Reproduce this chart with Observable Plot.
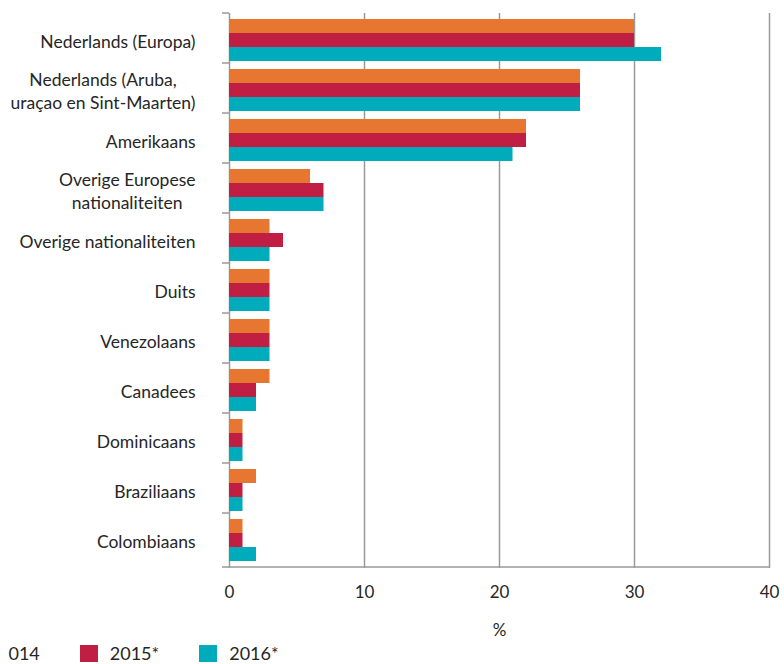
<!DOCTYPE html>
<html><head><meta charset="utf-8">
<script src="https://cdn.jsdelivr.net/npm/d3@7"></script>
<script src="https://cdn.jsdelivr.net/npm/@observablehq/plot@0.6"></script>
<style>
body{margin:0;background:#fff;font-family:Lato, sans-serif;}
#wrap{position:relative;width:784px;height:664px;overflow:hidden;}
#legclip{position:absolute;left:8px;top:636px;width:400px;height:28px;overflow:hidden;}
#legend{position:absolute;left:-40px;top:6px;display:flex;align-items:center;font-size:18px;color:#262626;white-space:nowrap;}
.item{display:flex;align-items:center;margin-right:40px}
.sw{width:18px;height:17px;margin-right:12px}
</style></head><body><div id="wrap"></div>
<script>
const categories = [
  "Nederlands (Europa)",
  "Nederlands (Aruba,\nuraçao en Sint-Maarten)",
  "Amerikaans",
  "Overige Europese\nnationaliteiten",
  "Overige nationaliteiten",
  "Duits",
  "Venezolaans",
  "Canadees",
  "Dominicaans",
  "Braziliaans",
  "Colombiaans"
];
const years = ["2014", "2015*", "2016*"];
const colors = ["#E77730", "#C01F43", "#00ABBC"];
const v2014 = [30, 26, 22, 6, 3, 3, 3, 3, 1, 2, 1];
const v2015 = [30, 26, 22, 7, 4, 3, 3, 2, 1, 1, 1];
const v2016 = [32, 26, 21, 7, 3, 3, 3, 2, 1, 1, 2];
const xTicks = [0, 10, 20, 30, 40];
const xLabel = "%";

const series = [v2014, v2015, v2016];
const data = categories.flatMap((c, i) => years.map((y, j) => ({cat: c, year: y, value: series[j][i]})));

const textColor = "#262626";
const gridColor = "#9a9a9a";

const chart = Plot.plot({
  width: 784,
  height: 640,
  marginLeft: 229,
  marginRight: 15,
  marginTop: 9,
  marginBottom: 73,
  style: {fontFamily: "Lato, sans-serif", fontSize: "17px", color: textColor, background: "#fff"},
  x: {domain: [0, 40], ticks: xTicks, label: null},
  fy: {domain: categories, padding: 0, axis: null},
  y: {domain: years, paddingInner: 0, paddingOuter: 0.25, align: 0.8, axis: null},
  color: {domain: years, range: colors},
  marks: [
    Plot.gridX(xTicks, {stroke: gridColor, strokeOpacity: 1, strokeWidth: 1.5}),
    Plot.barX(data, {fy: "cat", y: "year", x: "value", fill: "year"}),
    Plot.axisFy({anchor: "left", tickSize: 0, tickPadding: 34, label: null, fontSize: 17.5, lineHeight: 1.3, dy: 2, fill: textColor}),
    Plot.axisX({ticks: xTicks, tickSize: 5, tickPadding: 17, stroke: gridColor, strokeWidth: 1.5, fontSize: 17, fill: textColor,
      label: xLabel, labelAnchor: "center", labelArrow: "none", labelOffset: 72})
  ]
});

document.getElementById("wrap").appendChild(chart);

// decorations drawn with the chart's own scales
const svg = d3.select(chart.tagName.toLowerCase() === "svg" ? chart : chart.querySelector("svg"));
const fy = chart.scale("fy");
const xs = chart.scale("x");
const x0 = xs.apply(0), x1 = xs.apply(40);
const yBottom = fy.range[1];
const bounds = categories.map(c => fy.apply(c)).concat([yBottom]);
const g = svg.append("g").attr("stroke", gridColor).attr("stroke-width", 1.5);
g.append("line").attr("x1", x0).attr("x2", x1).attr("y1", yBottom).attr("y2", yBottom);
bounds.forEach(b => g.append("line").attr("x1", x0 - 7).attr("x2", x0).attr("y1", b).attr("y2", b));

// center wrapped category labels inside their block (as in the original)
svg.selectAll("text").each(function() {
  const tspans = this.querySelectorAll("tspan");
  if (tspans.length > 1) {
    let w = 0;
    tspans.forEach(t => { w = Math.max(w, t.getComputedTextLength()); });
    this.setAttribute("text-anchor", "middle");
    tspans.forEach(t => t.setAttribute("x", -w / 2));
  }
});

// legend (clipped at its left edge, as in the original)
const clip = document.createElement("div");
clip.id = "legclip";
const legend = document.createElement("div");
legend.id = "legend";
years.forEach((y, i) => {
  const it = document.createElement("div"); it.className = "item";
  const sw = document.createElement("div"); sw.className = "sw"; sw.style.background = colors[i];
  const tx = document.createElement("span"); tx.textContent = y;
  it.appendChild(sw); it.appendChild(tx); legend.appendChild(it);
});
clip.appendChild(legend);
document.getElementById("wrap").appendChild(clip);
</script></body></html>
